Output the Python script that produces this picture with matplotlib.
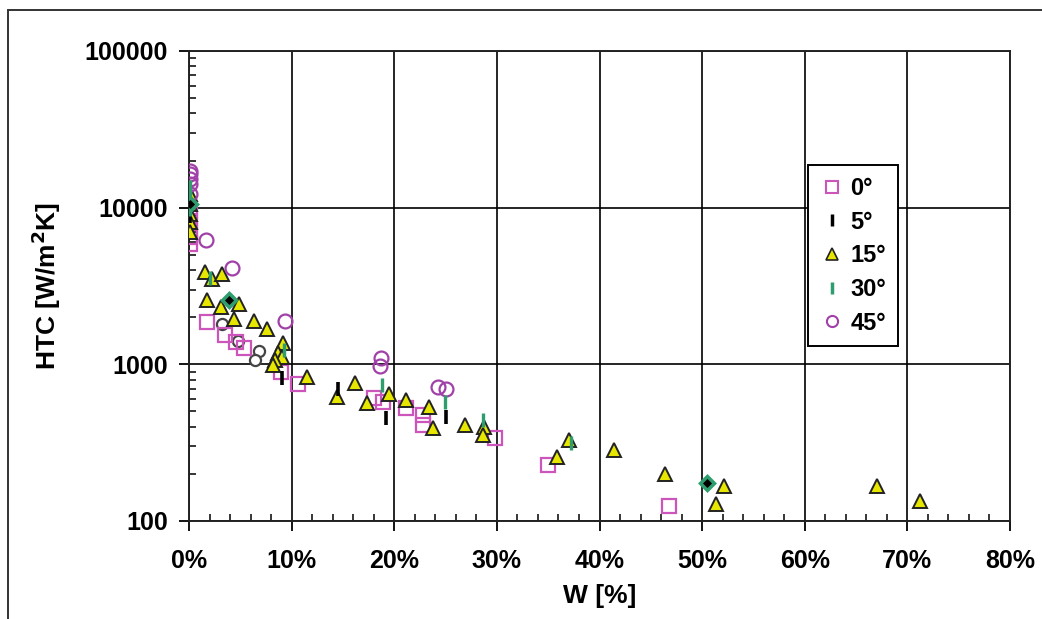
import matplotlib.pyplot as plt
from matplotlib.patches import Rectangle
from matplotlib.lines import Line2D
from matplotlib.ticker import FixedLocator, LogLocator, NullFormatter

plt.rcParams['font.family'] = ['Liberation Sans', 'DejaVu Sans']
plt.rcParams['font.weight'] = 'bold'

# W [%] and HTC [W/m2K], one pair of lists per series
x_0deg = [0.05, 0.05, 0.05, 0.05, 0.05, 1.75, 3.5, 4.6, 5.4, 9.0, 10.6, 18.0, 18.9, 21.1,
          22.8, 22.8, 29.8, 35.0, 46.8]
y_0deg = [9500, 8200, 7200, 6500, 5900, 1850, 1530, 1380, 1280, 890, 746, 607, 573, 525,
          473, 408, 338, 227, 125]

x_5deg = [0.05, 0.05, 9.1, 14.5, 19.2, 25.0]
y_5deg = [10000, 8800, 815, 700, 453, 459]

x_15deg = [0.05, 0.05, 0.05, 0.05, 0.05, 1.6, 2.2, 3.2, 1.75, 3.1, 4.9, 4.4, 6.3, 7.6,
           9.2, 8.7, 9.1, 8.4, 8.2, 11.5, 14.4, 16.2, 17.3, 19.5, 21.1, 23.4, 23.8, 26.9,
           28.7, 28.6, 37.0, 35.9, 41.4, 46.4, 52.1, 51.4, 67.0, 71.2]
y_15deg = [12300, 10600, 9150, 8050, 6950, 3860, 3530, 3800, 2560, 2310, 2410, 1940, 1900, 1690,
           1360, 1175, 1110, 1060, 987, 826, 617, 757, 565, 644, 590, 532, 391, 408,
           397, 353, 328, 256, 283, 199, 167, 128, 167, 134]

x_30deg = [0.05, 0.05, 0.05, 2.0, 9.3, 18.8, 24.9, 28.6, 37.2]
y_30deg = [13500, 11500, 9800, 3580, 1230, 735, 573, 440, 314]

x_45deg = [0.05, 0.05, 0.05, 0.05, 0.05, 1.7, 4.2, 9.4, 18.7, 18.6, 24.3, 25.0]
y_45deg = [17200, 16300, 15300, 14200, 12300, 6250, 4150, 1900, 1090, 970, 714, 693]

# series without a legend entry
x_diamond = [0.05, 3.9, 50.5]
y_diamond = [10500, 2590, 175]
x_ring = [3.2, 4.8, 6.8, 6.4]
y_ring = [1820, 1410, 1210, 1060]

x_ticks = [0, 10, 20, 30, 40, 50, 60, 70, 80]
y_ticks = [100, 1000, 10000, 100000]

pink = '#CC55BB'
purple = '#A040A8'
green = '#2E9E6E'
yellow = '#E6E600'

fig = plt.figure(figsize=(10.42, 6.19), dpi=100)
ax = fig.add_axes([189 / 1042, 1 - 521 / 619, 821 / 1042, 470 / 619])

# outer frame of the picture
fig.patches.append(Rectangle((8 / 1042, -0.2), 1.2, 1.2 - 10 / 619, transform=fig.transFigure,
                             fill=False, edgecolor='#333333', linewidth=1.4))

ax.plot(x_ring, y_ring, 'o', ms=8, mfc='white', mec='#444444', mew=1.6, ls='none', zorder=3)
ax.plot(x_0deg, y_0deg, 's', ms=10, mfc='none', mec=pink, mew=1.6, ls='none', zorder=3)
ax.plot(x_15deg, y_15deg, '^', ms=9.5, mfc=yellow, mec='#222222', mew=1.4, ls='none', zorder=4)
ax.plot(x_5deg, y_5deg, '|', ms=10, mec='black', mew=2.6, ls='none', zorder=5)
ax.plot(x_30deg, y_30deg, '|', ms=10, mec=green, mew=2.4, ls='none', zorder=5)
ax.plot(x_45deg, y_45deg, 'o', ms=10, mfc='none', mec=purple, mew=1.6, ls='none', zorder=4)
ax.plot(x_diamond, y_diamond, 'D', ms=7, mfc='black', mec=green, mew=2.5, ls='none', zorder=5)

ax.set_yscale('log')
ax.set_xlim(0, 80)
ax.set_ylim(100, 100000)

ax.xaxis.set_major_locator(FixedLocator(x_ticks))
ax.set_xticklabels([f'{v}%' for v in x_ticks])
ax.xaxis.set_minor_locator(FixedLocator([v for v in range(0, 81, 2) if v % 10]))
ax.yaxis.set_major_locator(FixedLocator(y_ticks))
ax.set_yticklabels([str(v) for v in y_ticks])
ax.yaxis.set_minor_locator(LogLocator(base=10, subs=range(2, 10)))
ax.yaxis.set_minor_formatter(NullFormatter())

ax.tick_params(which='major', direction='out', length=7, width=1.3, labelsize=18, pad=8)
ax.tick_params(axis='x', which='major', pad=13)
ax.tick_params(which='minor', direction='in', length=5, width=1.1)
ax.grid(True, which='major', color='black', linewidth=1.2)
ax.set_axisbelow(True)
for s in ax.spines.values():
    s.set_linewidth(1.4)
    s.set_color('#222222')

ax.set_xlabel('W [%]', fontsize=19, fontweight='bold', labelpad=8)
ax.set_ylabel('HTC [W/m$^\\mathbf{2}$K]', fontsize=19, fontweight='bold', labelpad=16)

handles = [
    Line2D([], [], marker='s', ms=8, mfc='none', mec=pink, mew=1.5, ls='none'),
    Line2D([], [], marker='|', ms=8, mec='black', mew=2.5, ls='none'),
    Line2D([], [], marker='^', ms=8, mfc=yellow, mec='#222222', mew=1.2, ls='none'),
    Line2D([], [], marker='|', ms=8, mec=green, mew=2.5, ls='none'),
    Line2D([], [], marker='o', ms=8, mfc='none', mec=purple, mew=1.5, ls='none'),
]
labels = ['0°', '5°', '15°', '30°', '45°']
leg = ax.legend(handles, labels, loc='upper left', bbox_to_anchor=(0.754, 0.757),
                fontsize=17, frameon=True, fancybox=False, handlelength=1.0,
                handletextpad=0.3, labelspacing=0.45, borderpad=0.5, borderaxespad=0)
leg.get_frame().set_edgecolor('black')
leg.get_frame().set_linewidth(1.4)
leg.get_frame().set_alpha(1)

fig.savefig('out.png', dpi=100)
